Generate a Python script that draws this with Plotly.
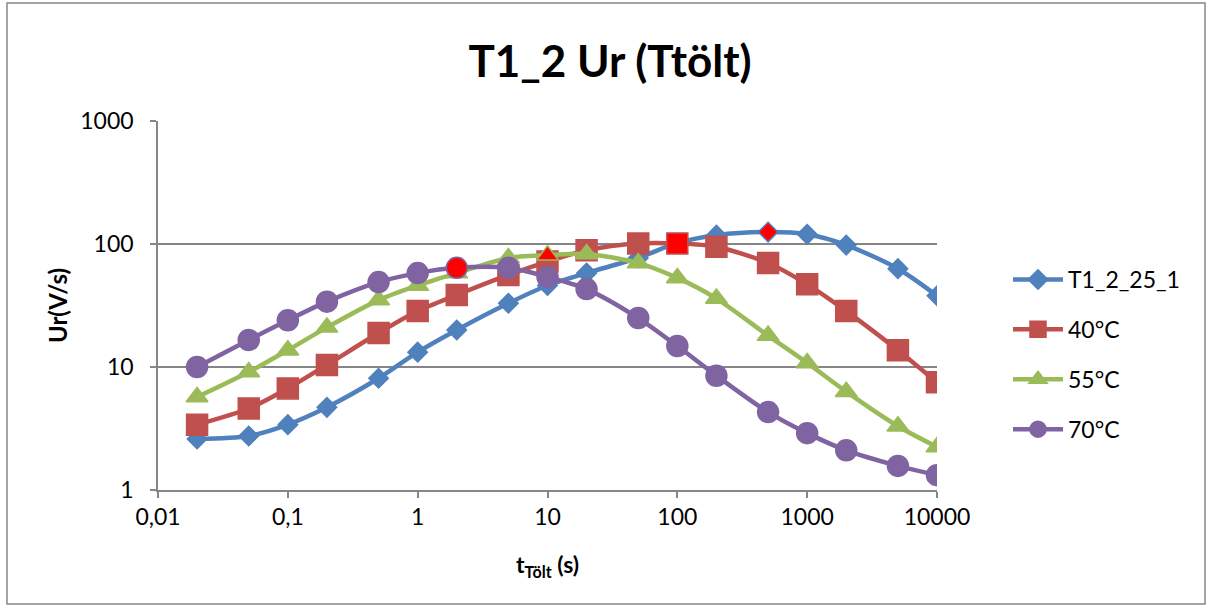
import plotly.graph_objects as go

t_s = [0.02, 0.05, 0.1, 0.2, 0.5, 1, 2, 5, 10, 20, 50, 100, 200, 500, 1000, 2000, 5000, 10000]

ur_25 = [2.6, 2.75, 3.4, 4.7, 8.1, 13.2, 20, 33, 46, 58, 77, 102, 118, 125, 120, 98, 63, 38]
ur_40 = [3.4, 4.6, 6.7, 10.4, 18.9, 28.5, 38.5, 56, 72, 89, 101, 101, 95, 70, 47, 28.5, 13.7, 7.5]
ur_55 = [5.7, 9.1, 13.7, 21, 35, 46, 58, 77, 81, 83, 70, 53, 36, 18, 10.8, 6.3, 3.3, 2.24]
ur_70 = [10, 16.6, 24, 34, 49, 58, 64, 64, 54, 43, 25, 14.8, 8.5, 4.3, 2.9, 2.1, 1.57, 1.32]

series_names = ["T1_2_25_1", "40°C", "55°C", "70°C"]
peak_t = [500, 100, 10, 2]

x_tickvals = [0.01, 0.1, 1, 10, 100, 1000, 10000]
x_ticktext = ["0,01", "0,1", "1", "10", "100", "1000", "10000"]
y_tickvals = [1, 10, 100, 1000]
y_ticktext = ["1", "10", "100", "1000"]

colors = ["#4F81BD", "#C0504D", "#9BBB59", "#8064A2"]
symbols = ["diamond", "square", "triangle-up", "circle"]
msizes = [15, 21, 19, 21]
HL = "#FF0000"
FONT = "Lato"

fig = go.Figure()
for name, ys, col, sym, ms, pk in zip(series_names, [ur_25, ur_40, ur_55, ur_70],
                                     colors, symbols, msizes, peak_t):
    mcols = [HL if t == pk else col for t in t_s]
    fig.add_trace(go.Scatter(
        x=t_s, y=ys, name=name, mode="lines+markers",
        line=dict(color=col, width=4.5, shape="spline", smoothing=0.8),
        marker=dict(symbol=sym, size=ms, color=mcols, line=dict(color=col, width=1.5)),
        legendgroup=name,
    ))

grid = "#868686"
fig.update_layout(
    width=1212, height=608,
    margin=dict(l=158, r=275, t=121, b=118),
    paper_bgcolor="white", plot_bgcolor="white",
    font=dict(family=FONT, size=23, color="black"),
    title=dict(text="<b>T1_2 Ur (Ttölt)</b>", x=(467 + 753) / 2 / 1212, xanchor="center",
               y=1 - 62 / 608, yanchor="middle", font=dict(family=FONT, size=44, color="black")),
    showlegend=True,
    legend=dict(x=(1008 - 158) / 779, xanchor="left", y=(490 - 258) / 369, yanchor="top",
                font=dict(family=FONT, size=23, color="black"), tracegroupgap=17,
                itemwidth=50, bgcolor="rgba(0,0,0,0)"),
    xaxis=dict(type="log", range=[-2, 4], tickvals=x_tickvals, ticktext=x_ticktext,
               showgrid=False, showline=True, linecolor=grid, linewidth=1.5,
               ticks="outside", ticklen=6, tickcolor=grid, tickwidth=1.5,
               tickfont=dict(family=FONT, size=23), zeroline=False,
               title=dict(text="<b>t<sub>Tölt</sub> (s)</b>", font=dict(family=FONT, size=23),
                          standoff=28)),
    yaxis=dict(type="log", range=[0, 3], tickvals=y_tickvals, ticktext=y_ticktext,
               showgrid=True, gridcolor=grid, gridwidth=1.5,
               showline=True, linecolor=grid, linewidth=1.5,
               ticks="outside", ticklen=6, tickcolor=grid, tickwidth=1.5,
               ticklabelstandoff=12,
               tickfont=dict(family=FONT, size=23), zeroline=False,
               title=dict(text="<b>Ur(V/s)</b>", font=dict(family=FONT, size=24), standoff=6)),
    shapes=[dict(type="rect", xref="paper", yref="paper",
                 x0=(7 - 158) / 779, x1=(1205 - 158) / 779,
                 y0=(490 - 604) / 369, y1=(490 - 3) / 369,
                 line=dict(color=grid, width=1.5), fillcolor="rgba(0,0,0,0)", layer="below")],
)

fig.write_html("out.html")
